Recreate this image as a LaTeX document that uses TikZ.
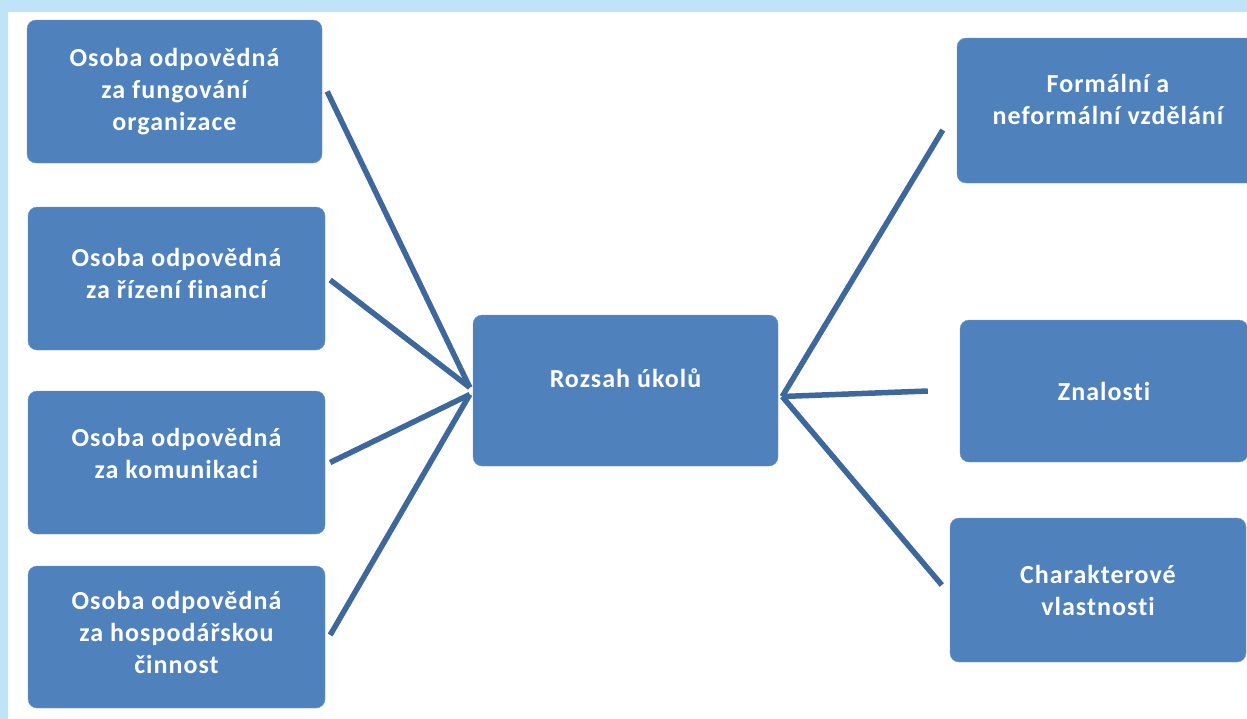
\documentclass[tikz,border=0pt]{standalone}
\usepackage{fontspec}
\setmainfont{Carlito}
\definecolor{boxblue}{RGB}{79,129,189}
\definecolor{lineblue}{RGB}{62,104,156}
\definecolor{skyband}{RGB}{192,227,247}
\definecolor{skydeep}{RGB}{128,196,238}

\begin{document}
\begin{tikzpicture}[x=1pt, y=-1pt,
  box/.style={draw=boxblue!80!white, fill=boxblue, rounded corners=9pt,
    text=white, font=\bfseries\fontsize{26}{32}\selectfont
      \addfontfeatures{LetterSpace=4, Ligatures=NoCommon},
    align=center, inner sep=0pt},
  link/.style={lineblue, line width=5.5pt}]

  \useasboundingbox (0,0) rectangle (1247,718);
  \clip (0,0) rectangle (1247,718);

  % slide background: light band on top and along the left side
  \fill[white] (0,0) rectangle (1247,718);
  \fill[skyband] (0,0) rectangle (1247,12);
  \shade[top color=skyband, middle color=skydeep, bottom color=skyband]
    (0,0) rectangle (8,718);

  % responsible persons
  \node[box, minimum width=295pt, minimum height=143pt] (op1) at (174.5,91.5)
    {Osoba odpovědná\\za fungování\\organizace};
  \node[box, minimum width=297pt, minimum height=143pt, text depth=10pt] (op2) at (176.5,278.5)
    {Osoba odpovědná\\za řízení financí};
  \node[box, minimum width=297pt, minimum height=143pt, text depth=18pt] (op3) at (176.5,462.5)
    {Osoba odpovědná\\za komunikaci};
  \node[box, minimum width=297pt, minimum height=142pt, text depth=10pt] (op4) at (176.5,637)
    {Osoba odpovědná\\za hospodářskou\\činnost};

  % middle
  \node[box, minimum width=305pt, minimum height=151pt, text depth=24pt] (rozsah) at (625.5,390.5)
    {Rozsah úkolů};

  % requirements
  \node[box, minimum width=302pt, minimum height=145pt, text depth=22pt] (vzdelani) at (1108,110.5)
    {Formální a\\neformální vzdělání};
  \node[box, minimum width=288pt, minimum height=142pt] (znalosti) at (1104,391)
    {Znalosti};
  \node[box, minimum width=296pt, minimum height=144pt] (vlastnosti) at (1098,590)
    {Charakterové\\vlastnosti};

  % links to the middle box
  \draw[link] ([xshift=5pt]op1.east) -- ([xshift=-3pt, yshift=3pt]rozsah.west);
  \draw[link] ([xshift=5pt, yshift=-1.5pt]op2.east) -- ([xshift=-3pt, yshift=3pt]rozsah.west);
  \draw[link] ([xshift=5pt]op3.east) -- ([xshift=-3pt, yshift=-4pt]rozsah.west);
  \draw[link] ([xshift=5pt, yshift=2pt]op4.east) -- ([xshift=-3pt, yshift=-4pt]rozsah.west);

  \draw[link] ([xshift=4pt, yshift=-6pt]rozsah.east) -- ([xshift=-14pt, yshift=-19.5pt]vzdelani.west);
  \draw[link] ([xshift=4pt, yshift=-6pt]rozsah.east) -- ([xshift=-32pt]znalosti.west);
  \draw[link] ([xshift=4pt, yshift=-6pt]rozsah.east) -- ([xshift=-8pt, yshift=5pt]vlastnosti.west);

\end{tikzpicture}
\end{document}
